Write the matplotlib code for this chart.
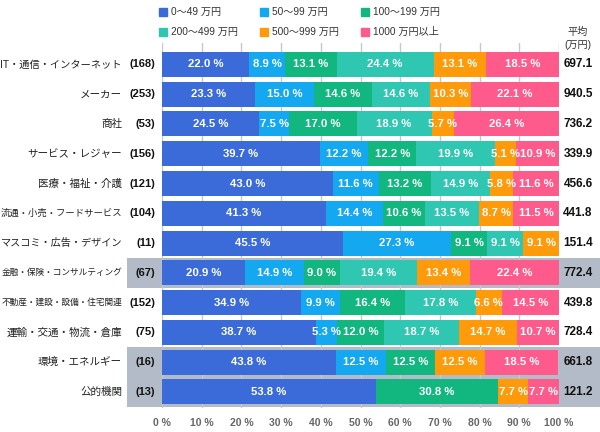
import numpy as np
import matplotlib
matplotlib.use("Agg")
import matplotlib.pyplot as plt
from matplotlib.patches import Rectangle
from matplotlib.transforms import blended_transform_factory

plt.rcParams['font.family'] = ['Liberation Sans', 'Noto Sans CJK JP']

# data
industries = ['IT・通信・インターネット', 'メーカー', '商社', 'サービス・レジャー',
              '医療・福祉・介護', '流通・小売・フードサービス', 'マスコミ・広告・デザイン',
              '金融・保険・コンサルティング', '不動産・建設・設備・住宅関連',
              '運輸・交通・物流・倉庫', '環境・エネルギー', '公的機関']
counts = [168, 253, 53, 156, 121, 104, 11, 67, 152, 75, 16, 13]
averages = [697.1, 940.5, 736.2, 339.9, 456.6, 441.8, 151.4, 772.4, 439.8, 728.4, 661.8, 121.2]
series_names = ['0〜49 万円', '50〜99 万円', '100〜199 万円',
                '200〜499 万円', '500〜999 万円', '1000 万円以上']
s0_49 = [22.0, 23.3, 24.5, 39.7, 43.0, 41.3, 45.5, 20.9, 34.9, 38.7, 43.8, 53.8]
s50_99 = [8.9, 15.0, 7.5, 12.2, 11.6, 14.4, 27.3, 14.9, 9.9, 5.3, 12.5, 0]
s100_199 = [13.1, 14.6, 17.0, 12.2, 13.2, 10.6, 9.1, 9.0, 16.4, 12.0, 12.5, 30.8]
s200_499 = [24.4, 14.6, 18.9, 19.9, 14.9, 13.5, 9.1, 19.4, 17.8, 18.7, 0, 0]
s500_999 = [13.1, 10.3, 5.7, 5.1, 5.8, 8.7, 9.1, 13.4, 6.6, 14.7, 12.5, 7.7]
s1000 = [18.5, 22.1, 26.4, 10.9, 11.6, 11.5, 0, 22.4, 14.5, 10.7, 18.5, 7.7]
highlight = [7, 10, 11]

colors = ['#3a6bd9', '#14a8f0', '#12b67f', '#2fc7b2', '#ff9a0a', '#ff5a8c']
series = [s0_49, s50_99, s100_199, s200_499, s500_999, s1000]

W, H = 600, 432
fig = plt.figure(figsize=(6, 4.32), dpi=100)
ax = fig.add_axes([162 / W, 1 - 408 / H, 397 / W, 365 / H])
ax.set_facecolor('none')
ypos = np.arange(len(industries))

left = np.zeros(len(industries))
for vals, col in zip(series, colors):
    vals = np.array(vals, dtype=float)
    ax.barh(ypos, vals, left=left, height=0.84, color=col, zorder=2)
    for y, l, v in zip(ypos, left, vals):
        if v > 0:
            ax.text(l + v / 2, y, f'{v:.1f} %', ha='center', va='center',
                    color='white', fontsize=8.2, fontweight='bold', zorder=3)
    left += vals

ax.set_xlim(0, 100)
ax.set_ylim(len(industries) - 1 + 0.54, -0.72)
ax.set_xticks(np.arange(0, 101, 10))
ax.set_xticklabels([f'{t} %' for t in range(0, 101, 10)], color='#666666',
                   fontsize=7.5, fontweight='bold')
ax.tick_params(axis='x', length=0, pad=7)
ax.set_yticks([])
ax.grid(axis='x', color='#c8c8c8', lw=1)
ax.set_axisbelow(True)
for s in ax.spines.values():
    s.set_visible(False)

trans = blended_transform_factory(fig.transFigure, ax.transData)
for i in highlight:
    ax.add_patch(Rectangle((127 / W, i - 0.5), 1 - 127 / W, 1.0, transform=trans,
                           color='#b4bbc8', zorder=0, clip_on=False, lw=0))

renderer = fig.canvas.get_renderer()
for y, name, n, avg in zip(ypos, industries, counts, averages):
    t = ax.text(122 / W, y, name, transform=trans, ha='right', va='center',
                fontsize=7.6, color='#222222')
    w = t.get_window_extent(renderer).width
    if w > 121:
        t.set_fontsize(7.6 * 121 / w)
    ax.text(155 / W, y, f'({n})', transform=trans, ha='right', va='center',
            fontsize=8, fontweight='bold', color='#111111')
    ax.text(578 / W, y, f'{avg:.1f}', transform=trans, ha='center', va='center',
            fontsize=8.5, fontweight='bold', color='#111111')

# legend
for i, (name, col) in enumerate(zip(series_names, colors)):
    x = 159 + (i % 3) * 101
    y = 12 + (i // 3) * 20
    fig.patches.append(Rectangle((x / W, 1 - (y + 4) / H), 8 / W, 8 / H,
                                 transform=fig.transFigure, color=col, figure=fig))
    fig.text((x + 12) / W, 1 - y / H, name, ha='left', va='center',
             fontsize=7.3, color='#333333')

fig.text(578 / W, 1 - 32 / H, '平均', ha='center', va='center', fontsize=7.3, color='#333333')
fig.text(578 / W, 1 - 45 / H, '(万円)', ha='center', va='center', fontsize=7.3, color='#333333')

fig.savefig('out.png', dpi=100)
